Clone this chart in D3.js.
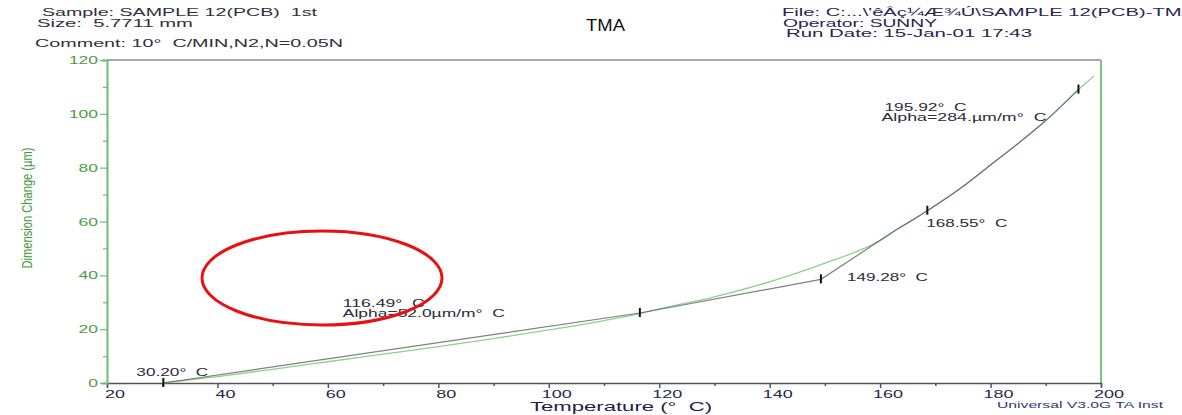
<!DOCTYPE html>
<html>
<head>
<meta charset="utf-8">
<script src="https://cdn.jsdelivr.net/npm/d3@7"></script>
<style>
  body { margin: 0; background: #fff; }
  text { font-family: "Liberation Sans", Arial, sans-serif; }
</style>
</head>
<body>
<div id="chart"></div>
<script>
// fitted curve (green) and measured trace (grey): temperature (°C) / dimension change (µm)
var fitTemp   = [30, 40, 50, 60, 70, 80, 90, 100, 110, 116.49, 120, 130, 140, 150, 160, 163, 168.55, 175, 180, 185, 190, 195.92, 198.7];
var fitDim    = [0, 2.4, 5.1, 7.9, 10.7, 13.5, 16.5, 19.7, 23.2, 25.8, 27.5, 32, 37.6, 44.5, 53, 57, 64, 73, 81, 89, 97.5, 109, 114];
var traceTemp = [30.2, 116.49, 149.28, 163, 168.55, 175, 180, 185, 190, 195.92];
var traceDim  = [0, 26, 38.5, 57, 64, 73, 81, 89, 97.5, 109];

var markerTemp = [30.20, 116.49, 149.28, 168.55, 195.92];
var markerDim  = [0, 26, 38.5, 64, 109];
var noteText = [
  ["30.20°\u00a0\u00a0C"],
  ["116.49°\u00a0\u00a0C", "Alpha=52.0µm/m°\u00a0\u00a0C"],
  ["149.28°\u00a0\u00a0C"],
  ["168.55°\u00a0\u00a0C"],
  ["195.92°\u00a0\u00a0C", "Alpha=284.µm/m°\u00a0\u00a0C"]
];
var xTicks = [20, 40, 60, 80, 100, 120, 140, 160, 180, 200];
var yTicks = [0, 20, 40, 60, 80, 100, 120];

// label layout relative to each marker: offset x, offset y, rendered widths
var noteLayout = [
  {dx: [-27], dy: -7, w: [72]},
  {dx: [-297, -297], dy: -6, w: [82, 162]},
  {dx: [26], dy: 2, w: [81]},
  {dx: [-1], dy: 16, w: [81]},
  {dx: [-194, -197], dy: 21, w: [82, 165]}
];

var W = 1182, H = 415;
var svg = d3.select("#chart").append("svg")
            .attr("width", W).attr("height", H);

var x = d3.scaleLinear().domain([20, 200]).range([107, 1101]);
var y = d3.scaleLinear().domain([0, 120]).range([383, 60]);

// frame
svg.append("line").attr("x1", 107).attr("x2", 1101).attr("y1", 60).attr("y2", 60)
   .attr("stroke", "#8a8a8a").attr("stroke-width", 1.5);
svg.append("line").attr("x1", 1101).attr("x2", 1101).attr("y1", 60).attr("y2", 383)
   .attr("stroke", "#7cc47c").attr("stroke-width", 2);

// x axis
var xAxis = svg.append("g").attr("transform", "translate(0,383)")
   .call(d3.axisBottom(x).tickValues(d3.range(20, 201, 10)).tickSize(4).tickFormat(""));
xAxis.select(".domain").attr("stroke", "#555").attr("stroke-width", 1.5);
xAxis.selectAll(".tick line").attr("stroke", "#555").attr("stroke-width", 1.5)
   .attr("y2", function(d){ return d % 20 == 0 ? 5 : 3; });
svg.append("g").selectAll("text").data(xTicks).enter().append("text")
   .attr("x", function(d){ return x(d) + 8; }).attr("y", 398)
   .attr("text-anchor", "middle").attr("font-size", 11)
   .attr("textLength", function(d){ return String(d).length * 10; })
   .attr("lengthAdjust", "spacingAndGlyphs")
   .attr("fill", "#1d2a48").text(function(d){ return d; });

// y axis
var yAxis = svg.append("g").attr("transform", "translate(107,0)")
   .call(d3.axisLeft(y).tickValues(d3.range(0, 121, 10)).tickSize(5).tickFormat(""));
yAxis.select(".domain").attr("stroke", "#6dbd6d").attr("stroke-width", 2);
yAxis.selectAll(".tick line").attr("stroke", "#6dbd6d").attr("stroke-width", 1.2)
   .attr("x2", function(d){ return d % 20 == 0 ? -7 : -4; });
svg.append("g").selectAll("text").data(yTicks).enter().append("text")
   .attr("x", 98).attr("y", function(d){ return y(d) + 4; })
   .attr("text-anchor", "end").attr("font-size", 11)
   .attr("textLength", function(d){ return String(d).length * 9.7; })
   .attr("lengthAdjust", "spacingAndGlyphs")
   .attr("fill", "#4f9a48").text(function(d){ return d; });

svg.append("text").attr("transform", "translate(32,208) rotate(-90)")
   .attr("text-anchor", "middle").attr("font-size", 15)
   .attr("textLength", 121).attr("lengthAdjust", "spacingAndGlyphs")
   .attr("fill", "#3f9a3f").text("Dimension Change (µm)");

svg.append("text").attr("x", 530).attr("y", 411)
   .attr("font-size", 13).attr("textLength", 182).attr("lengthAdjust", "spacingAndGlyphs")
   .attr("fill", "#1d2240").text("Temperature (°\u00a0\u00a0C)");

svg.append("text").attr("x", 997).attr("y", 408)
   .attr("font-size", 9.5).attr("textLength", 166).attr("lengthAdjust", "spacingAndGlyphs")
   .attr("fill", "#2a3a78").text("Universal V3.0G TA Inst");

// curves
var smooth = d3.line()
   .x(function(d){ return x(d[0]); })
   .y(function(d){ return y(d[1]); })
   .curve(d3.curveMonotoneX);
var straight = d3.line()
   .x(function(d){ return x(d[0]); })
   .y(function(d){ return y(d[1]); });

svg.append("path").datum(d3.zip(fitTemp, fitDim))
   .attr("d", smooth).attr("fill", "none")
   .attr("stroke", "#8fd08f").attr("stroke-width", 1.3);

var trace = d3.zip(traceTemp, traceDim);
svg.append("path").datum(trace.slice(0, 4))
   .attr("d", straight).attr("fill", "none")
   .attr("stroke", "#555").attr("stroke-opacity", 0.75).attr("stroke-width", 1.2);
svg.append("path").datum(trace.slice(3))
   .attr("d", smooth).attr("fill", "none")
   .attr("stroke", "#555").attr("stroke-opacity", 0.75).attr("stroke-width", 1.2);

// markers
var markers = d3.zip(markerTemp, markerDim);
svg.append("g").selectAll("line").data(markers).enter().append("line")
   .attr("x1", function(d){ return x(d[0]); }).attr("x2", function(d){ return x(d[0]); })
   .attr("y1", function(d){ return y(d[1]) - 5; }).attr("y2", function(d){ return y(d[1]) + 4; })
   .attr("stroke", "#111").attr("stroke-width", 2);

// annotations
markers.forEach(function(m, i){
  var lay = noteLayout[i];
  noteText[i].forEach(function(s, j){
    svg.append("text")
       .attr("x", x(m[0]) + lay.dx[j])
       .attr("y", y(m[1]) + lay.dy + j * 10)
       .attr("font-size", 10.5)
       .attr("textLength", lay.w[j]).attr("lengthAdjust", "spacingAndGlyphs")
       .attr("fill", "#2b2b3a").text(s);
  });
});

// header
var hdr = [
  {x: 42, y: 16, w: 275, s: "Sample: SAMPLE 12(PCB)\u00a0\u00a01st"},
  {x: 37, y: 27, w: 156, s: "Size:\u00a0\u00a05.7711 mm"},
  {x: 35, y: 47, w: 308, s: "Comment: 10°\u00a0\u00a0C/MIN,N2,N=0.05N"},
  {x: 782, y: 16, w: 413, s: "File: C:...\\'êÂç¼Æ¾Ú\\SAMPLE 12(PCB)-TMA"},
  {x: 783, y: 26.5, w: 154, s: "Operator: SUNNY"},
  {x: 786, y: 36.5, w: 246, s: "Run Date: 15-Jan-01 17:43"}
];
svg.append("g").selectAll("text").data(hdr).enter().append("text")
   .attr("x", function(d){ return d.x; }).attr("y", function(d){ return d.y; })
   .attr("font-size", 10.5)
   .attr("textLength", function(d){ return d.w; }).attr("lengthAdjust", "spacingAndGlyphs")
   .attr("fill", function(d){ return d.x > 700 ? "#2a2450" : "#303038"; })
   .text(function(d){ return d.s; });

svg.append("text").attr("x", 586).attr("y", 31)
   .attr("font-size", 16).attr("textLength", 39).attr("lengthAdjust", "spacingAndGlyphs")
   .attr("fill", "#111").text("TMA");

// red highlight ellipse
svg.append("ellipse").attr("cx", 322).attr("cy", 278).attr("rx", 120).attr("ry", 47)
   .attr("fill", "none").attr("stroke", "#e81010").attr("stroke-width", 3);
</script>
</body>
</html>
